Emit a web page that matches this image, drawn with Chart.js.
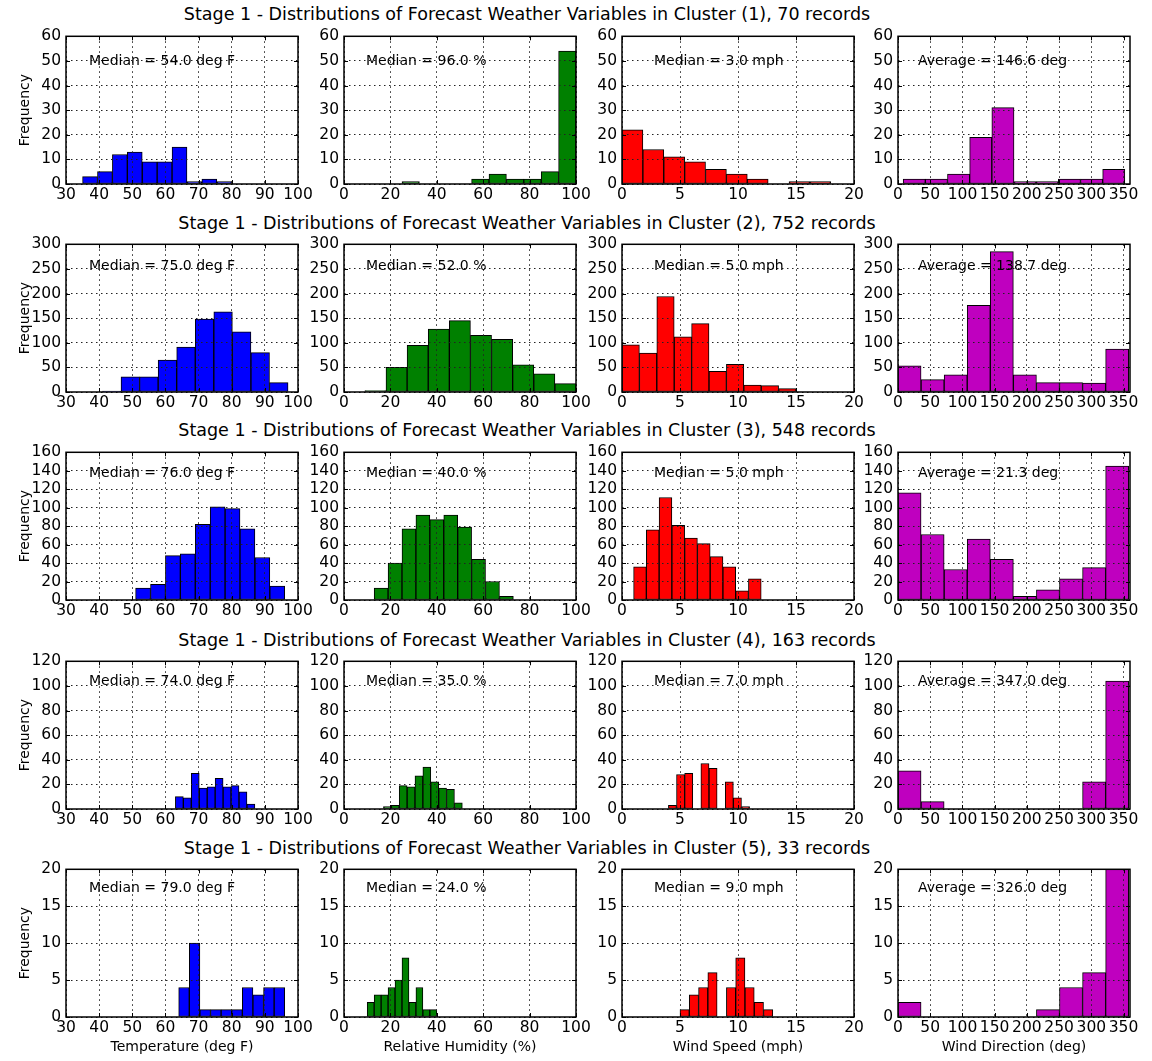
<!DOCTYPE html>
<html>
<head>
<meta charset="utf-8">
<title>Stage 1 - Forecast Weather Variable Distributions by Cluster</title>
<script src="https://cdn.jsdelivr.net/npm/chart.js@4.4.0/dist/chart.umd.min.js"></script>
<style>
  html, body { margin: 0; padding: 0; background: #fff; }
  body { position: relative; width: 1152px; height: 1061px; overflow: hidden;
         font-family: "DejaVu Sans", sans-serif; color: #000; }
  canvas { position: absolute; }
  .row-title { position: absolute; left: 7px; width: 1040px; text-align: center;
               font-size: 17.5px; line-height: 20px; white-space: nowrap; }
</style>
</head>
<body>
<script>
// ---------------- data ----------------
const clusterIds   = [1, 2, 3, 4, 5];
const recordCounts = [70, 752, 548, 163, 33];

// Temperature (deg F): histogram range [lo, hi] and 10 bin counts per cluster
const tempRanges = [[35, 80], [41, 97], [51, 96], [63, 87], [64, 96]];
const tempCounts = [
  [3, 5, 12, 13, 9, 9, 15, 1, 2, 1],
  [2, 31, 31, 65, 91, 148, 163, 122, 80, 19],
  [13, 17, 48, 50, 82, 101, 99, 77, 46, 15],
  [10, 9, 29, 17, 18, 25, 18, 19, 14, 4],
  [4, 10, 1, 1, 1, 1, 4, 3, 4, 4]
];
const tempMedians = [54.0, 75.0, 76.0, 74.0, 79.0];

// Relative humidity (%)
const rhRanges = [[25, 100], [9, 100], [13, 73], [17, 51], [10, 40]];
const rhCounts = [
  [1, 0, 0, 0, 2, 4, 2, 2, 5, 54],
  [3, 50, 95, 128, 145, 115, 107, 55, 37, 17],
  [13, 40, 77, 92, 87, 92, 79, 44, 20, 4],
  [2, 3, 19, 18, 27, 34, 22, 17, 16, 5],
  [2, 3, 3, 4, 5, 8, 2, 4, 1, 1]
];
const rhMedians = [96.0, 52.0, 40.0, 35.0, 24.0];

// Wind speed (mph)
const wsRanges = [[0, 18], [0, 15], [1, 12], [4, 11], [5, 13]];
const wsCounts = [
  [22, 14, 11, 9, 6, 4, 2, 0, 1, 1],
  [96, 79, 194, 112, 139, 42, 56, 14, 13, 7],
  [36, 76, 111, 81, 67, 61, 47, 36, 10, 23],
  [3, 28, 29, 0, 37, 33, 0, 22, 9, 2],
  [1, 3, 4, 6, 0, 4, 8, 4, 2, 1]
];
const wsMedians = [3.0, 5.0, 5.0, 7.0, 9.0];

// Wind direction (deg)
const wdRanges = [[8, 352], [0, 358], [0, 358], [0, 358], [0, 358]];
const wdCounts = [
  [2, 2, 4, 19, 31, 1, 1, 2, 2, 6],
  [53, 25, 35, 176, 285, 35, 19, 19, 18, 87],
  [116, 71, 33, 66, 44, 4, 11, 23, 35, 145],
  [31, 6, 0, 0, 0, 0, 0, 0, 22, 104],
  [2, 0, 0, 0, 0, 0, 1, 4, 6, 20]
];
const wdAverages = [146.6, 138.7, 21.3, 347.0, 326.0];

// axis limits and tick labels
const tempLimits = [30, 100], tempTicks = [30, 40, 50, 60, 70, 80, 90, 100];
const rhLimits   = [0, 100],  rhTicks   = [0, 20, 40, 60, 80, 100];
const wsLimits   = [0, 20],   wsTicks   = [0, 5, 10, 15, 20];
const wdLimits   = [0, 360],  wdTicks   = [0, 50, 100, 150, 200, 250, 300, 350];
const freqTicks = [
  [0, 10, 20, 30, 40, 50, 60],
  [0, 50, 100, 150, 200, 250, 300],
  [0, 20, 40, 60, 80, 100, 120, 140, 160],
  [0, 20, 40, 60, 80, 100, 120],
  [0, 5, 10, 15, 20]
];

// ---------------- panel descriptions ----------------
const variables = [
  { ranges: tempRanges, counts: tempCounts, limits: tempLimits, ticks: tempTicks, color: '#0000ff',
    label: 'Temperature (deg F)', note: i => 'Median = ' + tempMedians[i].toFixed(1) + ' deg F' },
  { ranges: rhRanges, counts: rhCounts, limits: rhLimits, ticks: rhTicks, color: '#008000',
    label: 'Relative Humidity (%)', note: i => 'Median = ' + rhMedians[i].toFixed(1) + ' %' },
  { ranges: wsRanges, counts: wsCounts, limits: wsLimits, ticks: wsTicks, color: '#ff0000',
    label: 'Wind Speed (mph)', note: i => 'Median = ' + wsMedians[i].toFixed(1) + ' mph' },
  { ranges: wdRanges, counts: wdCounts, limits: wdLimits, ticks: wdTicks, color: '#bf00bf',
    label: 'Wind Direction (deg)', note: i => 'Average = ' + wdAverages[i].toFixed(1) + ' deg' }
];

// ---------------- layout ----------------
const COL_LEFT = [66, 344, 622, 898];
const ROW_TOP  = [34, 242, 450, 659, 867];
const PANEL_W = 232, PANEL_H = 150;
const Y_STRIP = 56, PAD_TOP = 12, PAD_RIGHT = 24;
const NOTE_DX = [23, 22, 32, 20];
const NOTE_DY = [25, 22, 21, 20, 19];
const TITLE_MID = [14, 223, 430, 640, 848];

Chart.defaults.font.family = '"DejaVu Sans", sans-serif';
Chart.defaults.color = '#000';

// frame, inward tick marks and the statistic note of each panel
const panelDecor = {
  id: 'panelDecor',
  afterDraw(chart, args, opts) {
    const { ctx, chartArea: a, scales } = chart;
    ctx.save();
    ctx.strokeStyle = '#000';
    ctx.lineWidth = 1;
    ctx.beginPath();
    scales.x.ticks.forEach(t => {
      const px = Math.round(scales.x.getPixelForValue(t.value)) + 0.5;
      ctx.moveTo(px, a.bottom); ctx.lineTo(px, a.bottom - 4);
      ctx.moveTo(px, a.top);    ctx.lineTo(px, a.top + 4);
    });
    scales.y.ticks.forEach(t => {
      const py = Math.round(scales.y.getPixelForValue(t.value)) + 0.5;
      ctx.moveTo(a.left, py);  ctx.lineTo(a.left + 4, py);
      ctx.moveTo(a.right, py); ctx.lineTo(a.right - 4, py);
    });
    ctx.stroke();
    ctx.lineWidth = 1.5;
    ctx.strokeRect(a.left, a.top, a.right - a.left, a.bottom - a.top);
    ctx.font = '14px "DejaVu Sans", sans-serif';
    ctx.fillStyle = '#000';
    ctx.textAlign = 'left';
    ctx.textBaseline = 'middle';
    ctx.fillText(opts.note, a.left + opts.dx, a.top + opts.dy);
    ctx.restore();
  }
};

function histogramPoints(range, counts) {
  const w = (range[1] - range[0]) / counts.length;
  return counts.map((c, i) => ({ x: range[0] + (i + 0.5) * w, y: c }));
}

clusterIds.forEach((id, r) => {
  const t = document.createElement('div');
  t.className = 'row-title';
  t.style.top = (TITLE_MID[r] - 10) + 'px';
  t.textContent = 'Stage 1 - Distributions of Forecast Weather Variables in Cluster (' +
                  id + '), ' + recordCounts[r] + ' records';
  document.body.appendChild(t);

  variables.forEach((v, c) => {
    const yw = c === 0 ? COL_LEFT[0] : Y_STRIP;
    const xh = r === clusterIds.length - 1 ? 42 : 24;
    const cv = document.createElement('canvas');
    cv.width = yw + PANEL_W + PAD_RIGHT;
    cv.height = PAD_TOP + PANEL_H + xh;
    cv.style.left = (COL_LEFT[c] - yw) + 'px';
    cv.style.top = (ROW_TOP[r] - PAD_TOP) + 'px';
    document.body.appendChild(cv);

    new Chart(cv, {
      type: 'bar',
      data: {
        datasets: [{
          data: histogramPoints(v.ranges[r], v.counts[r]),
          backgroundColor: v.color,
          borderColor: '#000',
          borderWidth: 1,
          borderSkipped: false,
          barPercentage: 1,
          categoryPercentage: 1,
          grouped: false
        }]
      },
      options: {
        responsive: false,
        animation: false,
        devicePixelRatio: 1,
        layout: { padding: { top: PAD_TOP, right: PAD_RIGHT, left: 0, bottom: 0 } },
        plugins: {
          legend: { display: false },
          tooltip: { enabled: false },
          panelDecor: { note: v.note(r), dx: NOTE_DX[c], dy: NOTE_DY[r] }
        },
        scales: {
          x: {
            type: 'linear',
            offset: false,
            min: v.limits[0],
            max: v.limits[1],
            afterBuildTicks: s => { s.ticks = v.ticks.map(value => ({ value })); },
            afterFit: s => { s.height = xh; },
            grid: { offset: false, color: '#222', lineWidth: 1, drawTicks: false, z: 1 },
            border: { display: false, dash: [1.5, 3.5] },
            ticks: { autoSkip: false, maxRotation: 0, padding: 2, font: { size: 15.5 }, color: '#000' },
            title: {
              display: r === clusterIds.length - 1,
              text: v.label,
              color: '#000',
              font: { size: 14, lineHeight: 1 },
              padding: { top: 0, bottom: 5 }
            }
          },
          y: {
            type: 'linear',
            min: 0,
            max: freqTicks[r][freqTicks[r].length - 1],
            afterBuildTicks: s => { s.ticks = freqTicks[r].map(value => ({ value })); },
            afterFit: s => { s.width = yw; },
            grid: { color: '#222', lineWidth: 1, drawTicks: false, z: 1 },
            border: { display: false, dash: [1.5, 3.5] },
            ticks: { autoSkip: false, padding: 5, font: { size: 15.5 }, color: '#000' },
            title: {
              display: c === 0,
              text: 'Frequency',
              color: '#000',
              font: { size: 14, lineHeight: 1 },
              padding: { top: 18, bottom: 0 }
            }
          }
        }
      },
      plugins: [panelDecor]
    });
  });
});
</script>
</body>
</html>
